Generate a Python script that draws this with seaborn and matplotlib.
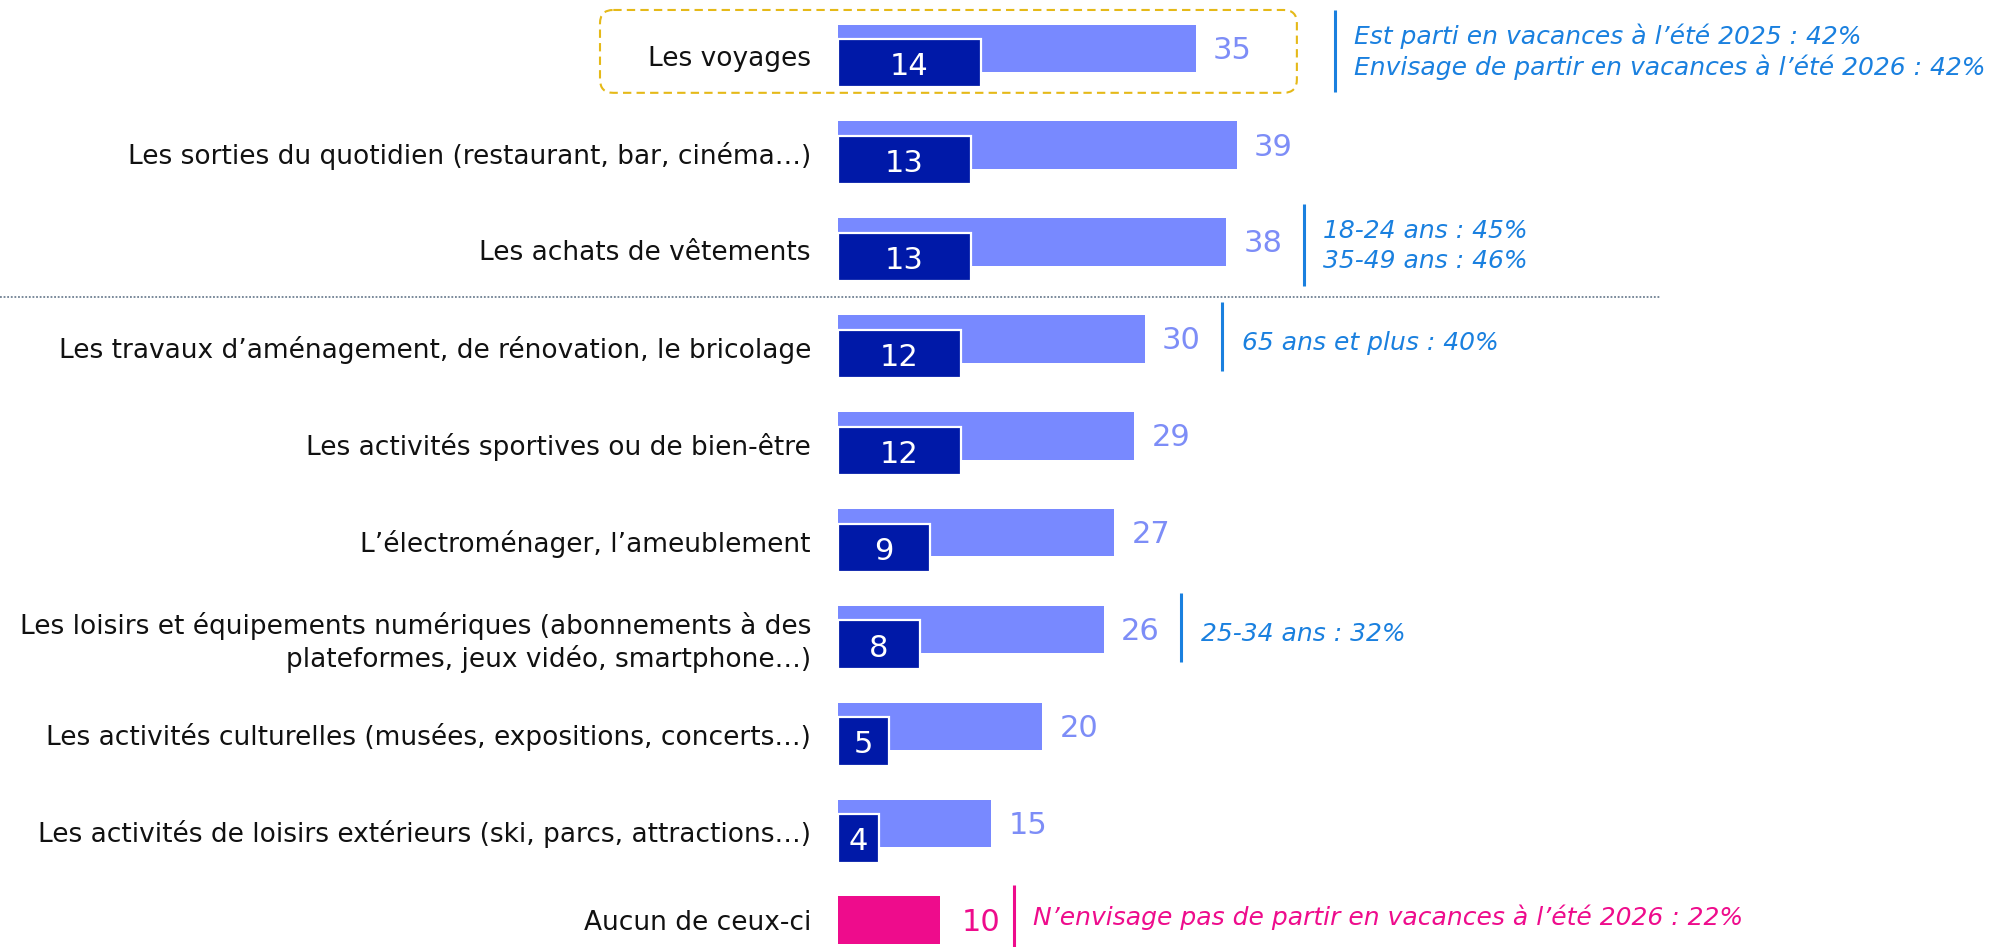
import numpy as np
import matplotlib
matplotlib.use("Agg")
import matplotlib.pyplot as plt
import seaborn as sns
from matplotlib.patches import FancyBboxPatch
from matplotlib.transforms import blended_transform_factory

# ---------------- data ----------------
categories = [
    "Les voyages",
    "Les sorties du quotidien (restaurant, bar, cinéma…)",
    "Les achats de vêtements",
    "Les travaux d’aménagement, de rénovation, le bricolage",
    "Les activités sportives ou de bien-être",
    "L’électroménager, l’ameublement",
    "Les loisirs et équipements numériques (abonnements à des\nplateformes, jeux vidéo, smartphone…)",
    "Les activités culturelles (musées, expositions, concerts…)",
    "Les activités de loisirs extérieurs (ski, parcs, attractions…)",
]
total_values = [35, 39, 38, 30, 29, 27, 26, 20, 15]
first_values = [14, 13, 13, 12, 12, 9, 8, 5, 4]
none_label = "Aucun de ceux-ci"
none_values = [10]

annotation_rows = [0, 2, 3, 6]
annotation_texts = [
    "Est parti en vacances à l’été 2025 : 42%\nEnvisage de partir en vacances à l’été 2026 : 42%",
    "18-24 ans : 45%\n35-49 ans : 46%",
    "65 ans et plus : 40%",
    "25-34 ans : 32%",
]
none_annotation = "N’envisage pas de partir en vacances à l’été 2026 : 22%"

# ---------------- style ----------------
LIGHT = "#7889FF"
LIGHT_TXT = "#7D8DF7"
DARK = "#0019A8"
PINK = "#EE0C8C"
BLUE = "#1A80DF"
GOLD = "#E5B918"
TXT = "#111111"

W, H = 2000, 947
PX_PER_UNIT = 10.22
ROW_PX = 96.9
ROW0_PX = 56
AX_LEFT_PX = 838

sns.set_theme(style="white")
plt.rcParams["font.family"] = ["DejaVu Sans"]

fig = plt.figure(figsize=(W / 100, H / 100), dpi=100)
ax = fig.add_axes([AX_LEFT_PX / W, 0, 1 - AX_LEFT_PX / W, 1])

rows = np.arange(len(categories))
LIGHT_OFF, DARK_OFF = -0.08, 0.075
none_pos = len(categories) - 0.08

sns.barplot(x=total_values, y=rows + LIGHT_OFF, orient="h", native_scale=True,
            width=0.49, color=LIGHT, saturation=1, errorbar=None, linewidth=0, ax=ax)
sns.barplot(x=first_values, y=rows + DARK_OFF, orient="h", native_scale=True,
            width=0.50, color=DARK, saturation=1, errorbar=None,
            edgecolor="white", linewidth=1.6, ax=ax)
sns.barplot(x=none_values, y=[none_pos], orient="h", native_scale=True,
            width=0.495, color=PINK, saturation=1, errorbar=None, linewidth=0, ax=ax)

ax.set_xlim(0, (W - AX_LEFT_PX) / PX_PER_UNIT)
ax.set_ylim((H - ROW0_PX) / ROW_PX, -ROW0_PX / ROW_PX)
for s in ax.spines.values():
    s.set_visible(False)
ax.set_xticks([])
ax.set_xlabel("")
ax.set_ylabel("")
ax.set_yticks(list(rows) + [none_pos])
ax.set_yticklabels(categories + [none_label])
ax.tick_params(axis="y", length=0, pad=19.5, labelsize=19, labelcolor=TXT)

NUM_FS = 22
for i, (t, f) in enumerate(zip(total_values, first_values)):
    ax.text(t + 1.7, i + LIGHT_OFF + 0.02, f"{t}", ha="left", va="center",
            color=LIGHT_TXT, fontsize=NUM_FS)
    ax.text(f / 2, i + DARK_OFF + 0.035, f"{f}", ha="center", va="center",
            color="white", fontsize=NUM_FS)
ax.text(none_values[0] + 2.1, none_pos + 0.02, f"{none_values[0]}", ha="left", va="center",
        color=PINK, fontsize=NUM_FS)

# highlight box around first row
box_left = -(AX_LEFT_PX - 600) / PX_PER_UNIT
box_right = total_values[0] + 9.9
box = FancyBboxPatch((box_left, -0.475), box_right - box_left, 0.855,
                     boxstyle="round,pad=0,rounding_size=1.3",
                     mutation_aspect=PX_PER_UNIT / ROW_PX,
                     fill=False, edgecolor=GOLD, linestyle=(0, (4, 2.5)),
                     linewidth=1.5, clip_on=False, transform=ax.transData)
ax.add_patch(box)

# annotations
ANN_FS = 18
for r, txt in zip(annotation_rows, annotation_texts):
    if r == 0:
        lx = box_right + 3.7
    else:
        lx = total_values[r] + 7.6
    two = "\n" in txt
    y0, y1 = (r - 0.47, r + 0.37) if two else (r - 0.46, r + 0.25)
    ax.plot([lx, lx], [y0, y1], color=BLUE, lw=2.2, solid_capstyle="butt", clip_on=False)
    ax.text(lx + 1.9, r - 0.04, txt, ha="left", va="center", color=BLUE,
            fontsize=ANN_FS, style="italic", linespacing=1.28)

lx = none_values[0] + 7.2
ax.plot([lx, lx], [none_pos - 0.36, none_pos + 0.3], color=PINK, lw=2.2,
        solid_capstyle="butt", clip_on=False)
ax.text(lx + 1.9, none_pos - 0.03, none_annotation, ha="left", va="center", color=PINK,
        fontsize=ANN_FS, style="italic")

# dotted separator between rows 2 and 3
trans = blended_transform_factory(fig.transFigure, ax.transData)
ax.plot([0, 1660 / W], [2.49, 2.49], transform=trans, color="#6F8092",
        lw=1.3, linestyle=(0, (1, 1)), clip_on=False)

fig.savefig("out.png", dpi=100, facecolor="white")
